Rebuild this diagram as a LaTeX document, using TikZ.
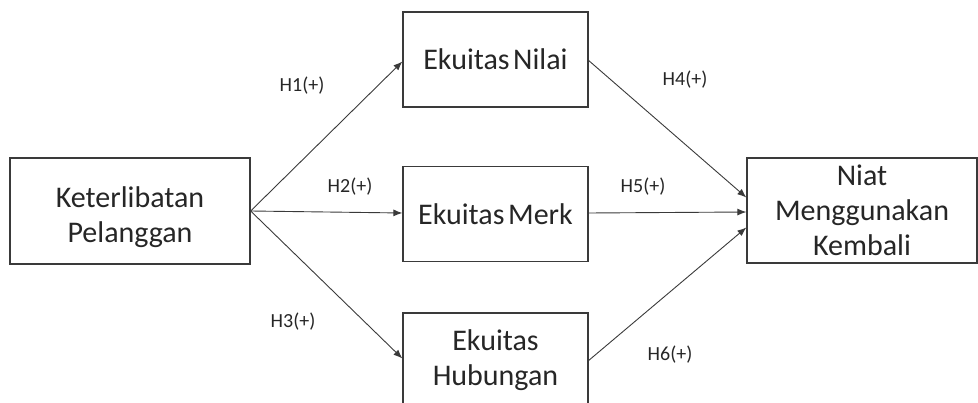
\documentclass[tikz,border=0pt]{standalone}
\usepackage{fontspec}
\setmainfont{Carlito}
\usetikzlibrary{arrows.meta}
\definecolor{ln}{HTML}{3A3A3A}
\begin{document}
\begin{tikzpicture}[x=1pt,y=-1pt,
  box/.style={draw=ln,line width=1.3pt,inner sep=0pt,align=center,
    font=\fontsize{30}{35}\selectfont,text=black!85},
  lbl/.style={font=\fontsize{20}{24}\selectfont,text=black!85,inner sep=0pt},
  conn/.style={draw=ln,line width=0.9pt,-{Latex[length=9pt,width=7pt]}}]
\useasboundingbox (0,0) rectangle (978,403);
\begin{scope}
\clip (0,0) rectangle (978,403);
\node[box,minimum width=240pt,minimum height=106pt] (kp) at (130,211) {\rule{0pt}{33pt}Keterlibatan\\Pelanggan};
\node[box,minimum width=185pt,minimum height=95pt] (en) at (495.5,59.5) {Ekuitas\hspace{0.12em}Nilai};
\node[box,minimum width=185pt,minimum height=95pt] (em) at (495.5,214) {Ekuitas\hspace{0.12em}Merk};
\node[box,minimum width=185pt,minimum height=95pt] (eh) at (495.5,360.5) {Ekuitas\\Hubungan};
\node[box,minimum width=230pt,minimum height=105pt] (ni) at (862,210.5) {Niat\\Menggunakan\\Kembali};
\end{scope}
\draw[conn] (kp.east) -- ([yshift=-2pt]en.west);
\draw[conn] (kp.east) -- ([yshift=1pt]em.west);
\draw[conn] (kp.east) -- ([yshift=2pt]eh.west);
\draw[conn] ([yshift=-1pt]en.east) -- ([yshift=13pt]ni.west);
\draw[conn] ([yshift=1pt]em.east) -- ([yshift=-1.5pt]ni.west);
\draw[conn] ([yshift=0pt]eh.east) -- ([yshift=-17pt]ni.west);
\node[lbl] (h1) at (302,86) {H1(+)};
\node[lbl] (h2) at (350,187) {H2(+)};
\node[lbl] (h3) at (293,322) {H3(+)};
\node[lbl] (h4) at (685,80) {H4(+)};
\node[lbl] (h5) at (643,187) {H5(+)};
\node[lbl] (h6) at (670,355) {H6(+)};
\end{tikzpicture}
\end{document}
